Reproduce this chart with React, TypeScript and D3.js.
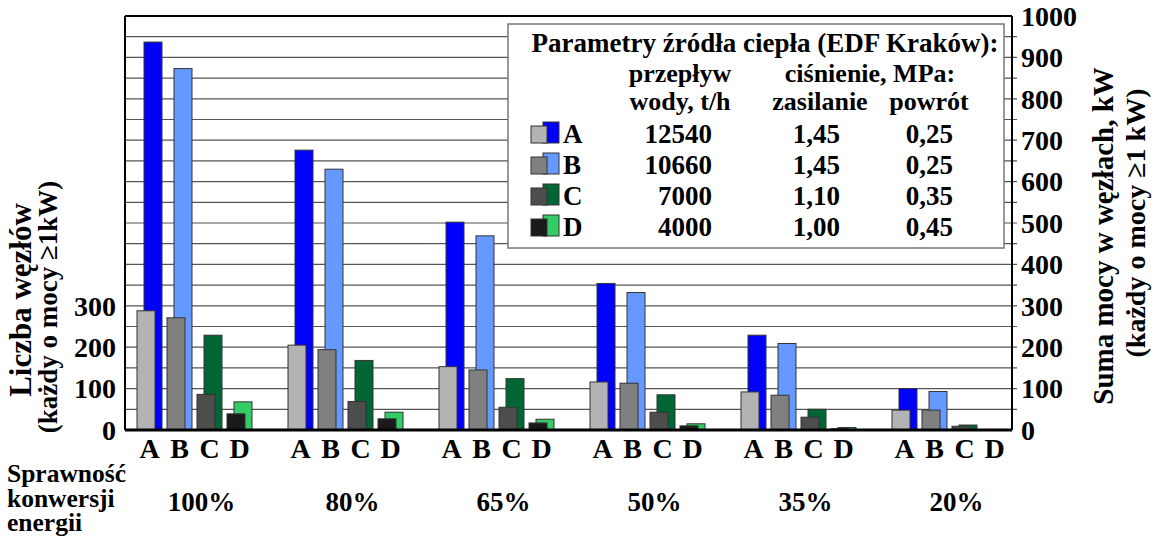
import React from "react";
import * as d3 from "d3";

// sprawność konwersji energii (groups) and heat sources (slots)
const groups = ["100%", "80%", "65%", "50%", "35%", "20%"];
const sources = ["A", "B", "C", "D"];

// liczba węzłów (left axis) per source, one value per group
const countA = [288, 205, 153, 116, 92, 48];
const countB = [271, 194, 145, 113, 84, 48];
const countC = [86, 69, 55, 43, 31, 9];
const countD = [39, 27, 17, 10, 3, 0];

// suma mocy w węzłach, kW (right axis)
const powerA = [937, 676, 502, 354, 229, 100];
const powerB = [873, 630, 469, 332, 209, 93];
const powerC = [229, 168, 124, 85, 50, 12];
const powerD = [68, 43, 26, 15, 6, 1];

// legend table
const flow = ["12540", "10660", "7000", "4000"];
const supply = ["1,45", "1,45", "1,10", "1,00"];
const ret = ["0,25", "0,25", "0,35", "0,45"];

const leftTicks = [0, 100, 200, 300];
const rightTicks = d3.range(0, 1001, 100);
const gridTicks = d3.range(50, 1000, 50);

const grayColors = ["#b3b3b3", "#808080", "#4d4d4d", "#1a1a1a"];
const colColors = ["#0000ff", "#6699ff", "#006633", "#33cc66"];

const counts = [countA, countB, countC, countD];
const powers = [powerA, powerB, powerC, powerD];

const FONT = "Liberation Serif, Times New Roman, DejaVu Serif, serif";

const W = 1152;
const H = 541;
const left = 125;
const right = 1012;
const top = 16;
const bottom = 430;

export default function App() {
  const y = d3.scaleLinear().domain([0, 1000]).range([bottom, top]);
  const gx = d3.scalePoint<string>().domain(groups).range([194.5, 949.5]);
  const sx = d3.scalePoint<string>().domain(sources).range([-45, 45]);
  const barW = 18;
  const shift = 7;

  const T = (size: number) => ({
    style: { fontFamily: FONT, fontWeight: 700, fontSize: size + "px" },
    fill: "#000",
  });

  return (
    <svg
      width={W}
      height={H}
      style={{ position: "absolute", left: 0, top: 0, background: "#fff" }}
    >
      {/* grid */}
      {gridTicks.map((t) => (
        <line
          key={"g" + t}
          x1={left}
          x2={right + 5}
          y1={y(t)}
          y2={y(t)}
          stroke="#555"
          strokeWidth={1.2}
        />
      ))}

      {/* bars: coloured (power) behind, gray (count) in front */}
      {groups.map((g, gi) =>
        sources.map((s, si) => {
          const cx = (gx(g) ?? 0) + (sx(s) ?? 0);
          const p = powers[si][gi];
          const c = counts[si][gi];
          return (
            <g key={g + s}>
              {p > 0 && (
                <rect
                  x={cx - 12.5 + shift}
                  y={y(p)}
                  width={barW}
                  height={bottom - y(p)}
                  fill={colColors[si]}
                  stroke="#333"
                  strokeWidth={1}
                />
              )}
              {c > 0 && (
                <rect
                  x={cx - 12.5}
                  y={y(c)}
                  width={barW}
                  height={bottom - y(c)}
                  fill={grayColors[si]}
                  stroke="#333"
                  strokeWidth={1}
                />
              )}
            </g>
          );
        })
      )}

      {/* frame */}
      <line x1={left} x2={right} y1={top} y2={top} stroke="#000" strokeWidth={2} />
      <line x1={left} x2={left} y1={top} y2={bottom} stroke="#000" strokeWidth={2} />
      <line x1={right} x2={right} y1={top} y2={bottom} stroke="#000" strokeWidth={2} />
      <line x1={left} x2={right} y1={bottom} y2={bottom} stroke="#000" strokeWidth={3} />

      {/* left axis */}
      {leftTicks.map((t) => (
        <text key={"l" + t} x={116} y={y(t)} dy="0.35em" textAnchor="end" {...T(28)}>
          {t}
        </text>
      ))}
      <g transform="translate(31,300) rotate(-90)">
        <text textAnchor="middle" {...T(31)}>Liczba węzłów</text>
      </g>
      <g transform="translate(57,307) rotate(-90)">
        <text textAnchor="middle" {...T(27)}>(każdy o mocy ≥1kW)</text>
      </g>

      {/* right axis */}
      {rightTicks.map((t) => (
        <text key={"r" + t} x={1021} y={y(t)} dy="0.35em" {...T(28)}>
          {t}
        </text>
      ))}
      <g transform="translate(1113,236) rotate(-90)">
        <text textAnchor="middle" {...T(29)}>Suma mocy w węzłach, kW</text>
      </g>
      <g transform="translate(1145,223) rotate(-90)">
        <text textAnchor="middle" {...T(28)}>(każdy o mocy ≥1 kW)</text>
      </g>

      {/* x labels */}
      {groups.map((g) =>
        sources.map((s) => (
          <text
            key={"x" + g + s}
            x={(gx(g) ?? 0) + (sx(s) ?? 0)}
            y={458}
            textAnchor="middle"
            {...T(28)}
          >
            {s}
          </text>
        ))
      )}
      {groups.map((g) => (
        <text key={"p" + g} x={(gx(g) ?? 0) + 7} y={511} textAnchor="middle" {...T(27)}>
          {g}
        </text>
      ))}
      <text x={7} y={482} {...T(25.5)}>Sprawność</text>
      <text x={7} y={507} {...T(25.5)}>konwersji</text>
      <text x={7} y={531} {...T(25.5)}>energii</text>

      {/* legend table */}
      <rect x={508} y={24} width={496} height={224} fill="#fff" stroke="#777" strokeWidth={1.5} />
      <text x={765} y={52} textAnchor="middle" {...T(27)}>
        Parametry źródła ciepła (EDF Kraków):
      </text>
      <text x={680} y={82} textAnchor="middle" {...T(26)}>przepływ</text>
      <text x={680} y={110} textAnchor="middle" {...T(26)}>wody, t/h</text>
      <text x={870} y={82} textAnchor="middle" {...T(26)}>ciśnienie, MPa:</text>
      <text x={820} y={110} textAnchor="middle" {...T(26)}>zasilanie</text>
      <text x={929} y={110} textAnchor="middle" {...T(26)}>powrót</text>
      {sources.map((s, i) => {
        const base = 143 + i * 31;
        return (
          <g key={"leg" + s}>
            <rect x={543} y={base - 21} width={16} height={21} fill={colColors[i]} stroke="#333" strokeWidth={1} />
            <rect x={531} y={base - 17} width={16} height={17} fill={grayColors[i]} stroke="#333" strokeWidth={1} />
            <text x={563} y={base} {...T(27)}>{s}</text>
            <text x={712} y={base} textAnchor="end" {...T(27)}>{flow[i]}</text>
            <text x={840} y={base} textAnchor="end" {...T(27)}>{supply[i]}</text>
            <text x={953} y={base} textAnchor="end" {...T(27)}>{ret[i]}</text>
          </g>
        );
      })}
    </svg>
  );
}
